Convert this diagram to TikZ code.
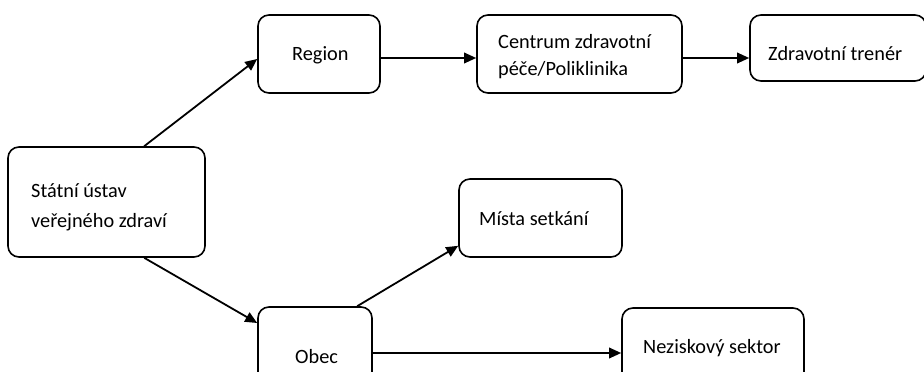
\documentclass[tikz,border=0pt]{standalone}
\usepackage{fontspec}
\setmainfont{Carlito}
\usetikzlibrary{arrows.meta}
\begin{document}
\begin{tikzpicture}[x=1pt,y=-1pt,
  box/.style={draw=black, line width=1.6pt, rounded corners=11pt, inner sep=0pt},
  txt/.style={anchor=base west, inner sep=0pt, align=left,
    font=\fontsize{20.3}{30}\selectfont},
  arr/.style={draw=black, line width=1.8pt, -{Triangle[length=12pt,width=10.5pt]}}]
  \useasboundingbox (0,0) rectangle (924,372);
  \clip (0,0) rectangle (924,372);
  \fill[white] (0,0) rectangle (924,372);

  % organisation boxes
  \node[box, minimum width=197pt, minimum height=110pt] (s) at (106.5,202) {};
  \node[box, minimum width=122pt, minimum height=78pt] (r) at (319,54) {};
  \node[box, minimum width=205pt, minimum height=78pt] (c) at (579.5,54) {};
  \node[box, minimum width=176pt, minimum height=66pt] (z) at (838,48) {};
  \node[box, minimum width=163pt, minimum height=78pt] (m) at (540.5,218) {};
  \node[box, minimum width=114pt, minimum height=98pt] (o) at (315,356) {};
  \node[box, minimum width=182pt, minimum height=78pt] (n) at (713,347) {};

  % box labels; a two-line label is placed by the baseline of its last line
  \node[txt] (s-t) at (31,227) {Státní ústav\\veřejného zdraví};
  \node[txt] (r-t) at (292,60) {Region};
  \node[txt, font=\fontsize{20.3}{26.5}\selectfont] (c-t) at (498,75)
        {Centrum zdravotní\\péče/Poliklinika};
  \node[txt] (z-t) at (768,60) {Zdravotní trenér};
  \node[txt] (m-t) at (479,225) {Místa setkání};
  \node[txt] (o-t) at (295,363) {Obec};
  \node[txt] (n-t) at (643,353) {Neziskový sektor};

  % connectors
  \draw[arr] ([xshift=137pt]s.north west) -- ([yshift=-5pt]r.west);
  \draw[arr] ([xshift=137pt]s.south west) -- ([yshift=33pt]o.west);
  \draw[arr] ([yshift=-4pt]r.east) -- ([yshift=-4pt]r.east -| c.west);
  \draw[arr] ([yshift=-4pt]c.east) -- ([yshift=-4pt]c.east -| z.west);
  \draw[arr] ([xshift=100pt]o.north west) -- ([yshift=12pt]m.south west);
  \draw[arr] ([yshift=3pt]o.east) -- ([yshift=3pt]o.east -| n.west);
\end{tikzpicture}
\end{document}
